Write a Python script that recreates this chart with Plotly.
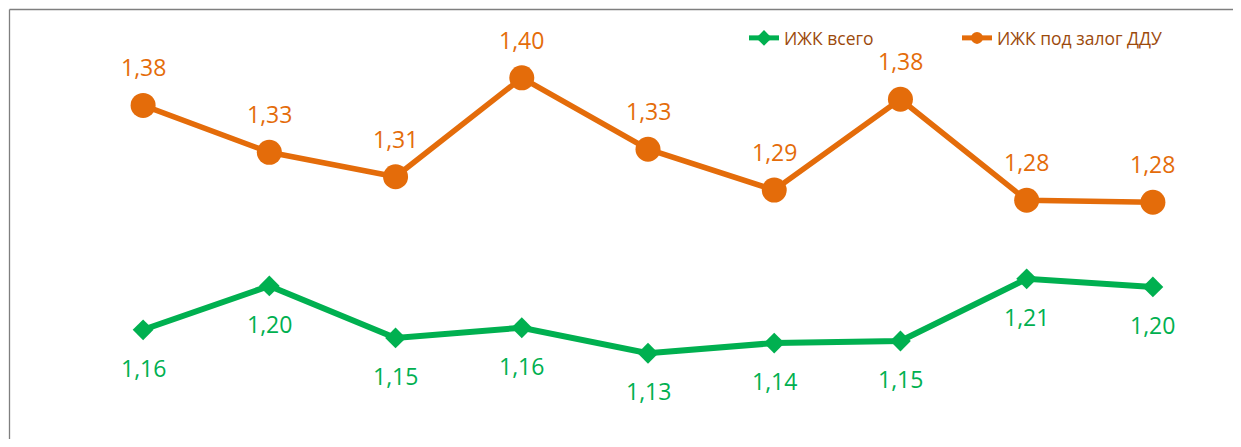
import plotly.graph_objects as go

# ---- data ----
periods = ["P1", "P2", "P3", "P4", "P5", "P6", "P7", "P8", "P9"]
izhk_total = [1.157, 1.200, 1.149, 1.159, 1.134, 1.144, 1.146, 1.207, 1.199]
izhk_ddu = [1.377, 1.331, 1.307, 1.404, 1.334, 1.294, 1.383, 1.284, 1.282]
name_total = "ИЖК всего"
name_ddu = "ИЖК под залог ДДУ"

GREEN = "#00B050"
ORANGE = "#E46C0A"
LEGEND_TXT = "#9C4A0C"
FONT = "Open Sans"

# page has an 8px body margin: figure origin sits at (8, 8) of the page
OFF = 8


def fmt(v):
    return f"{v:.2f}".replace(".", ",")


fig = go.Figure()
fig.add_trace(go.Scatter(
    x=periods, y=izhk_total, name=name_total, mode="lines+markers",
    line=dict(color=GREEN, width=6),
    marker=dict(symbol="diamond", size=16, color=GREEN),
))
fig.add_trace(go.Scatter(
    x=periods, y=izhk_ddu, name=name_ddu, mode="lines+markers",
    line=dict(color=ORANGE, width=5.5),
    marker=dict(symbol="circle", size=25, color=ORANGE),
))

annotations = []
for p, v in zip(periods, izhk_ddu):
    annotations.append(dict(x=p, y=v, xref="x", yref="y", text=fmt(v), showarrow=False,
                            yshift=38, font=dict(family=FONT, size=23, color=ORANGE)))
for p, v in zip(periods, izhk_total):
    annotations.append(dict(x=p, y=v, xref="x", yref="y", text=fmt(v), showarrow=False,
                            yshift=-38, font=dict(family=FONT, size=23, color=GREEN)))

W, H = 1241 - 2 * OFF, 447 - 2 * OFF
ml, mt = 80 - OFF, 40 - OFF
plot_right_page, plot_bottom_page = 1216, 438
mr = W - (plot_right_page - OFF)
mb = H - (plot_bottom_page - OFF)
pw, ph = W - ml - mr, H - mt - mb


def px2paper_x(px):
    return (px - OFF - ml) / pw


def px2paper_y(py):
    return (H - mb - (py - OFF)) / ph


shapes = [
    dict(type="line", xref="paper", yref="paper",
         x0=px2paper_x(9.5), x1=px2paper_x(1300), y0=px2paper_y(9.5), y1=px2paper_y(9.5),
         line=dict(color="#7F7F7F", width=1.3)),
    dict(type="line", xref="paper", yref="paper",
         x0=px2paper_x(9.5), x1=px2paper_x(9.5), y0=px2paper_y(9.5), y1=px2paper_y(500),
         line=dict(color="#7F7F7F", width=1.3)),
]

fig.update_layout(
    width=W, height=H,
    margin=dict(l=ml, r=mr, t=mt, b=mb),
    paper_bgcolor="white", plot_bgcolor="white",
    font=dict(family=FONT),
    xaxis=dict(type="category", range=[-0.5, 8.5], showticklabels=False, showgrid=False,
               zeroline=False, showline=False, ticks=""),
    yaxis=dict(range=[1.0509, 1.4411], showticklabels=False, showgrid=False,
               zeroline=False, showline=False, ticks=""),
    showlegend=True,
    legend=dict(orientation="h", x=px2paper_x(744), xanchor="left",
                y=px2paper_y(38), yanchor="middle",
                font=dict(family=FONT, size=17.5, color=LEGEND_TXT),
                bgcolor="rgba(0,0,0,0)", itemsizing="constant",
                entrywidth=168, entrywidthmode="pixels"),
    annotations=annotations,
    shapes=shapes,
)

fig.write_html("out.html")
